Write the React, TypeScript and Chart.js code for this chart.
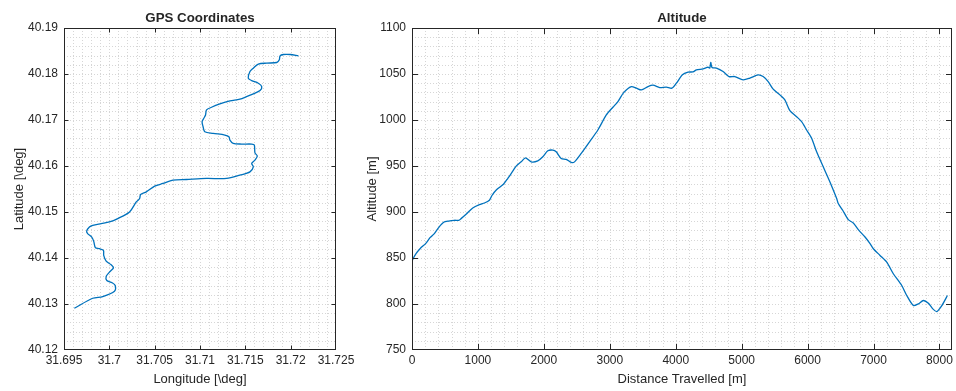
import React, { useEffect, useRef } from "react";
import { Chart, registerables } from "chart.js";

Chart.register(...registerables);

// Axis ticks
const lonTicks = [31.695, 31.7, 31.705, 31.71, 31.715, 31.72, 31.725];
const latTicks = [40.12, 40.13, 40.14, 40.15, 40.16, 40.17, 40.18, 40.19];
const distTicks = [0, 1000, 2000, 3000, 4000, 5000, 6000, 7000, 8000];
const altTicks = [750, 800, 850, 900, 950, 1000, 1050, 1100];
const distMax = 8190;

// GPS track (degrees)
const gpsLon = [
  31.69614, 31.69817, 31.69927, 31.70057, 31.70065, 31.70031, 31.69972, 31.69965,
  31.70001, 31.70046, 31.7002, 31.69965, 31.69938, 31.69935, 31.69891, 31.69846,
  31.69828, 31.69806, 31.69761, 31.6975, 31.6978, 31.69817, 31.6991, 31.70001,
  31.70093, 31.70223, 31.70297, 31.70334, 31.70345, 31.70408, 31.705, 31.70591,
  31.70702, 31.7085, 31.71072, 31.71293, 31.7144, 31.71551, 31.71588, 31.7157,
  31.71606, 31.71632, 31.71606, 31.71599, 31.7157, 31.71459, 31.71366, 31.7133,
  31.71319, 31.71274, 31.71145, 31.71053, 31.71034, 31.71023, 31.71042, 31.71061,
  31.71072, 31.71127, 31.71219, 31.7133, 31.7144, 31.71515, 31.71588, 31.71662,
  31.71681, 31.71643, 31.7157, 31.71532, 31.71551, 31.71588, 31.71643, 31.71736,
  31.71847, 31.71875, 31.71883, 31.7192, 31.71994, 31.72086,
];
const gpsLat = [
  40.12907, 40.13125, 40.13162, 40.13278, 40.13402, 40.13461, 40.13511, 40.13598,
  40.13692, 40.13788, 40.13854, 40.13932, 40.14056, 40.14165, 40.14202, 40.14224,
  40.14362, 40.14455, 40.1453, 40.14586, 40.14673, 40.14711, 40.14748, 40.14783,
  40.14857, 40.15001, 40.15219, 40.15293, 40.1538, 40.15437, 40.15561, 40.1562,
  40.15692, 40.15707, 40.15729, 40.15729, 40.15801, 40.15873, 40.15982, 40.16056,
  40.16128, 40.16215, 40.16287, 40.16455, 40.16477, 40.16477, 40.16492, 40.16564,
  40.16636, 40.16673, 40.1671, 40.16745, 40.16854, 40.16963, 40.17037, 40.17109,
  40.17218, 40.17277, 40.17349, 40.17414, 40.17452, 40.17508, 40.17567, 40.17639,
  40.17726, 40.178, 40.17857, 40.17909, 40.18053, 40.18127, 40.18215, 40.18237,
  40.1825, 40.18308, 40.18396, 40.18424, 40.18424, 40.18396,
];

// Altitude profile along the track
const distance = [
  0, 9, 61, 122, 213, 273, 339, 404, 480, 556, 643, 708, 744, 820, 921, 1022, 1098,
  1174, 1215, 1285, 1387, 1452, 1528, 1580, 1656, 1721, 1808, 1908, 1984, 2060,
  2136, 2187, 2263, 2339, 2415, 2465, 2567, 2693, 2819, 2947, 3047, 3123, 3210,
  3327, 3403, 3479, 3579, 3655, 3757, 3858, 3942, 4010, 4101, 4186, 4262, 4314,
  4414, 4490, 4516, 4531, 4551, 4618, 4718, 4809, 4896, 5022, 5124, 5250, 5326,
  5402, 5478, 5579, 5655, 5731, 5833, 5909, 5985, 6061, 6137, 6237, 6339, 6441,
  6465, 6532, 6617, 6693, 6769, 6871, 6947, 6997, 7098, 7200, 7300, 7428, 7504,
  7604, 7680, 7756, 7832, 7899, 7960, 8036, 8121,
];
const altitude = [
  846, 848.1, 854.7, 860.1, 866.2, 872.1, 876.5, 883.0, 888.8, 890.2, 891.0, 891.0,
  892.8, 897.5, 904.4, 908.1, 909.8, 912.8, 918.2, 924.4, 930.2, 936.4, 944.4,
  949.9, 954.5, 958.9, 954.5, 955.6, 960.0, 966.5, 967.3, 965.4, 958.2, 957.2,
  953.9, 954.5, 963.7, 976.3, 989.1, 1005.5, 1013.9, 1020.0, 1029.8, 1036.3,
  1034.6, 1032.7, 1036.3, 1037.8, 1035.2, 1035.7, 1034.6, 1040.0, 1049.1, 1052.0,
  1052.3, 1054.5, 1055.6, 1057.5, 1056.4, 1062.5, 1057.0, 1056.4, 1052.7, 1047.2,
  1047.2, 1043.6, 1045.5, 1049.1, 1047.2, 1041.8, 1033.5, 1027.3, 1021.8, 1010.1,
  1003.6, 998.2, 989.1, 980.1, 965.4, 949.1, 932.7, 914.6, 909.2, 901.9, 891.7,
  888.0, 880.8, 872.8, 865.6, 860.1, 852.8, 845.5, 832.9, 820.1, 809.2, 798.3,
  800.2, 803.8, 800.8, 794.7, 791.8, 798.3, 809.2,
];

const FONT = '"Liberation Sans", Arial, Helvetica, sans-serif';
const INK = "#262626";
const LINE = "#0072BD";

// Dotted grid at fifths of each major interval, a dark box with inward ticks,
// and the panel title centred over the plotting area
const axesFrame = {
  id: "axesFrame",
  beforeDatasetsDraw(chart: any) {
    const { ctx, chartArea: a } = chart;
    ctx.save();
    ctx.strokeStyle = "#d6d6d6";
    ctx.lineWidth = 1;
    ctx.setLineDash([1, 2]);
    ctx.beginPath();
    const grid = (scale: any, vertical: boolean) => {
      const vals = scale.ticks.map((t: any) => t.value);
      const step = (vals[1] - vals[0]) / 5;
      for (let i = 0; ; i++) {
        const v = vals[0] + i * step;
        if (v > scale.max + step * 1e-6) break;
        const p = Math.round(scale.getPixelForValue(v)) + 0.5;
        if (vertical) {
          if (p <= a.left + 1 || p >= a.right - 1) continue;
          ctx.moveTo(p, a.top);
          ctx.lineTo(p, a.bottom);
        } else {
          if (p <= a.top + 1 || p >= a.bottom - 1) continue;
          ctx.moveTo(a.left, p);
          ctx.lineTo(a.right, p);
        }
      }
    };
    grid(chart.scales.x, true);
    grid(chart.scales.y, false);
    ctx.stroke();
    ctx.restore();
  },
  afterDatasetsDraw(chart: any, _args: any, opts: any) {
    const { ctx, chartArea: a } = chart;
    const len = opts.tickLength || 4;
    const l = Math.round(a.left) + 0.5;
    const r = Math.round(a.right) - 0.5;
    const t = Math.round(a.top) + 0.5;
    const b = Math.round(a.bottom) - 0.5;
    const clamp = (v: number, lo: number, hi: number) => Math.min(hi, Math.max(lo, v));
    ctx.save();
    ctx.strokeStyle = INK;
    ctx.lineWidth = 1;
    ctx.setLineDash([]);
    ctx.strokeRect(l, t, r - l, b - t);
    ctx.beginPath();
    chart.scales.x.ticks.forEach((tk: any) => {
      const p = clamp(Math.round(chart.scales.x.getPixelForValue(tk.value)) + 0.5, l, r);
      ctx.moveTo(p, b);
      ctx.lineTo(p, b - len);
      ctx.moveTo(p, t);
      ctx.lineTo(p, t + len);
    });
    chart.scales.y.ticks.forEach((tk: any) => {
      const p = clamp(Math.round(chart.scales.y.getPixelForValue(tk.value)) + 0.5, t, b);
      ctx.moveTo(l, p);
      ctx.lineTo(l + len, p);
      ctx.moveTo(r, p);
      ctx.lineTo(r - len, p);
    });
    ctx.stroke();

    if (opts.title) {
      ctx.fillStyle = INK;
      ctx.font = `bold 13.3px ${FONT}`;
      ctx.textAlign = "center";
      ctx.textBaseline = "middle";
      ctx.fillText(opts.title, (a.left + a.right) / 2, 18);
    }
    ctx.restore();
  },
};

type PanelSpec = {
  left: number;
  width: number;
  title: string;
  xTitle: string;
  yTitle: string;
  xs: number[];
  ys: number[];
  xTicks: number[];
  yTicks: number[];
  xMin: number;
  xMax: number;
  yMin: number;
  yMax: number;
  yAxisWidth: number;
  yTitleInset: number;
  padRight: number;
  tickLength: number;
  tension: number;
  fmtX: (v: number) => string;
  fmtY: (v: number) => string;
};

const HEIGHT = 391;
const PLOT_TOP = 28;
const PLOT_BOTTOM = 350;

function Panel(p: PanelSpec) {
  const ref = useRef<HTMLCanvasElement>(null);
  useEffect(() => {
    if (!ref.current) return;
    const points = p.xs.map((x, i) => ({ x, y: p.ys[i] }));
    const chart = new Chart(ref.current, {
      type: "line",
      data: {
        datasets: [
          {
            data: points,
            borderColor: LINE,
            backgroundColor: LINE,
            borderWidth: 1.3,
            pointRadius: 0,
            tension: p.tension,
            fill: false,
          },
        ],
      },
      options: {
        responsive: false,
        animation: false,
        events: [],
        layout: { padding: { left: 0, right: p.padRight, top: PLOT_TOP, bottom: 0 } },
        plugins: {
          legend: { display: false },
          tooltip: { enabled: false },
          title: { display: false },
          axesFrame: { tickLength: p.tickLength, title: p.title },
        } as any,
        scales: {
          x: {
            type: "linear",
            min: p.xMin,
            max: p.xMax,
            grid: { display: false, drawTicks: false },
            border: { display: false },
            afterBuildTicks: (s: any) => {
              s.ticks = p.xTicks.map((v) => ({ value: v }));
            },
            afterFit: (s: any) => {
              s.height = HEIGHT - PLOT_BOTTOM;
              s.paddingLeft = 0;
              s.paddingRight = 0;
            },
            ticks: {
              color: INK,
              padding: 3,
              maxRotation: 0,
              autoSkip: false,
              font: { family: FONT, size: 12 },
              callback: (v: any) => p.fmtX(Number(v)),
            },
            title: {
              display: true,
              text: p.xTitle,
              color: INK,
              font: { family: FONT, size: 13 },
              padding: { top: 0, bottom: 4 },
            },
          },
          y: {
            type: "linear",
            min: p.yMin,
            max: p.yMax,
            grid: { display: false, drawTicks: false },
            border: { display: false },
            afterBuildTicks: (s: any) => {
              s.ticks = p.yTicks.map((v) => ({ value: v }));
            },
            afterFit: (s: any) => {
              s.width = p.yAxisWidth;
              s.paddingTop = 0;
              s.paddingBottom = 0;
            },
            ticks: {
              color: INK,
              padding: 6,
              autoSkip: false,
              font: { family: FONT, size: 12 },
              callback: (v: any) => p.fmtY(Number(v)),
            },
            title: {
              display: true,
              text: p.yTitle,
              color: INK,
              font: { family: FONT, size: 13 },
              padding: { top: p.yTitleInset, bottom: 0 },
            },
          },
        },
      },
      plugins: [axesFrame as any],
    });
    return () => chart.destroy();
  }, []);
  return (
    <canvas
      ref={ref}
      width={p.width}
      height={HEIGHT}
      style={{ position: "absolute", left: p.left, top: 0, width: p.width, height: HEIGHT }}
    />
  );
}

export default function App() {
  return (
    <div
      style={{
        position: "fixed",
        left: 0,
        top: 0,
        width: 956,
        height: HEIGHT,
        background: "#ffffff",
        overflow: "hidden",
      }}
    >
      <Panel
        left={340}
        width={616}
        title="Altitude"
        xTitle="Distance Travelled [m]"
        yTitle="Altitude [m]"
        xs={distance}
        ys={altitude}
        xTicks={distTicks}
        yTicks={altTicks}
        xMin={0}
        xMax={distMax}
        yMin={750}
        yMax={1100}
        yAxisWidth={72}
        yTitleInset={25}
        padRight={4}
        tickLength={5.5}
        tension={0.25}
        fmtX={(v) => String(Math.round(v))}
        fmtY={(v) => String(Math.round(v))}
      />
      <Panel
        left={0}
        width={375}
        title="GPS Coordinates"
        xTitle="Longitude [\deg]"
        yTitle="Latitude [\deg]"
        xs={gpsLon}
        ys={gpsLat}
        xTicks={lonTicks}
        yTicks={latTicks}
        xMin={31.695}
        xMax={31.725}
        yMin={40.12}
        yMax={40.19}
        yAxisWidth={64}
        yTitleInset={12}
        padRight={39}
        tickLength={4}
        tension={0.3}
        fmtX={(v) => String(Number(v.toFixed(3)))}
        fmtY={(v) => String(Number(v.toFixed(2)))}
      />
    </div>
  );
}
